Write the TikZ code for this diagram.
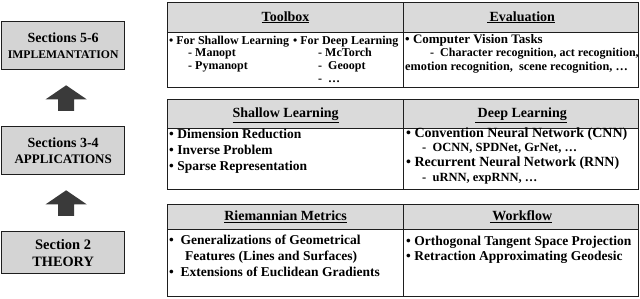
\documentclass[tikz,border=0pt]{standalone}
\usepackage{fontspec}
\setmainfont{Liberation Serif}
\usetikzlibrary{calc}
\definecolor{hdr}{HTML}{DADADA}
\definecolor{boxg}{HTML}{D4D4D4}
\definecolor{arr}{HTML}{3A3A3A}
\definecolor{edge}{HTML}{1E1E1E}
\newcommand\fsz[1]{\fontsize{#1}{#1}\selectfont}
\begin{document}
\begin{tikzpicture}[x=1pt,y=-1pt,
 lbox/.style={draw=edge, fill=boxg, line width=1.3pt, anchor=north west, inner sep=0pt, minimum width=123pt, align=center},
 hcell/.style={draw=edge, fill=hdr, line width=1.2pt, anchor=north west, inner sep=0pt, font=\bfseries\fsz{14}, text height=10pt, text depth=3pt},
 bcell/.style={draw=edge, line width=1.2pt, anchor=north west, inner sep=0pt},
 txt/.style={anchor=base west, inner sep=0pt, font=\bfseries\fsz{#1}},
 bigarr/.style={fill=arr}]
\useasboundingbox (0,0) rectangle (640,299);

% left column
\node[lbox, minimum height=48pt, font=\bfseries\fontsize{14}{16}\selectfont] (b1) at (1,21) {Sections 5-6\\{\fontsize{11.7}{16}\selectfont IMPLEMANTATION}};
\node[lbox, minimum height=48pt, font=\bfseries\fontsize{14}{16}\selectfont] (b2) at (1,126) {Sections 3-4\\{\fontsize{13}{16}\selectfont APPLICATIONS}};
\node[lbox, minimum height=42pt, font=\bfseries\fontsize{14.5}{17}\selectfont] (b3) at (1,231) {Section 2\\{\fontsize{14.3}{17}\selectfont THEORY}};

\coordinate (a1b) at ([xshift=3pt,yshift=15pt]b2.north);
\coordinate (a1t) at ([xshift=3pt,yshift=-15pt]b1.south);
\coordinate (a2b) at ([xshift=3pt,yshift=15pt]b3.north);
\coordinate (a2t) at ([xshift=3pt,yshift=-15pt]b2.south);
\fill[bigarr] ($(a1b)+(-8,0)$) -- ($(a1t)+(-8,14)$) -- ($(a1t)+(-20.5,14)$) -- (a1t) -- ($(a1t)+(20.5,14)$) -- ($(a1t)+(8,14)$) -- ($(a1b)+(8,0)$) -- cycle;
\fill[bigarr] ($(a2b)+(-8,0)$) -- ($(a2t)+(-8,14)$) -- ($(a2t)+(-20.5,14)$) -- (a2t) -- ($(a2t)+(20.5,14)$) -- ($(a2t)+(8,14)$) -- ($(a2b)+(8,0)$) -- cycle;

% table 1
\node[hcell, minimum width=236pt, minimum height=30pt] (h1l) at (167,2) {\underline{Toolbox}};
\node[hcell, minimum width=235pt, minimum height=30pt] (h1r) at (403,2) {\underline{\,Evaluation}};
\node[bcell, minimum width=236pt, minimum height=55pt] (c1l) at (167,32) {};
\node[bcell, minimum width=235pt, minimum height=55pt] (c1r) at (403,32) {};
\node[txt=12] (t1a) at (169,45) {\textbullet\ For Shallow Learning};
\node[txt=12] (t1b) at (188,57) {-\ Manopt};
\node[txt=12] (t1c) at (188,70) {-\ Pymanopt};
\node[txt=12] (t1d) at (293,45) {\textbullet\ For Deep Learning};
\node[txt=12] (t1e) at (318,57) {-\ McTorch};
\node[txt=12] (t1f) at (318,70) {-\ \ Geoopt};
\node[txt=12] (t1g) at (318,82.5) {-\ \ …};
\node[txt=13] (t1h) at (405,44) {\textbullet\ Computer Vision Tasks};
\node[txt=12] (t1i) at (430,57) {-\ \ Character recognition, act recognition,};
\node[txt=12.3] (t1j) at (405,71) {emotion recognition,\ \ scene recognition, …};

% table 2
\node[hcell, minimum width=236pt, minimum height=29pt] (h2l) at (167,99) {\underline{Shallow Learning}};
\node[hcell, minimum width=235pt, minimum height=29pt] (h2r) at (403,99) {\underline{\,Deep Learning}};
\node[bcell, minimum width=236pt, minimum height=61pt] (c2l) at (167,128) {};
\node[bcell, minimum width=235pt, minimum height=61pt] (c2r) at (403,128) {};
\node[txt=13.5] (t2a) at (169,139) {\textbullet\ Dimension Reduction};
\node[txt=13.5] (t2b) at (169,155) {\textbullet\ Inverse Problem};
\node[txt=13.5] (t2c) at (169,171) {\textbullet\ Sparse Representation};
\node[txt=14] (t2d) at (406,138) {\textbullet\ Convention Neural Network (CNN)};
\node[txt=12.5] (t2e) at (422,152) {-\ \ OCNN, SPDNet, GrNet, …};
\node[txt=14] (t2f) at (406,167) {\textbullet\ Recurrent Neural Network (RNN)};
\node[txt=12.5] (t2g) at (422,181.5) {-\ \ uRNN, expRNN, …};

% table 3
\node[hcell, minimum width=236pt, minimum height=25pt] (h3l) at (167,204) {\underline{Riemannian Metrics}};
\node[hcell, minimum width=235pt, minimum height=25pt] (h3r) at (403,204) {\underline{\,Workflow}};
\node[bcell, minimum width=236pt, minimum height=67pt] (c3l) at (167,229) {};
\node[bcell, minimum width=235pt, minimum height=67pt] (c3r) at (403,229) {};
\node[txt=13.5] (t3a) at (169,244.5) {\textbullet\ \ Generalizations of Geometrical};
\node[txt=13.5] (t3b) at (185,260.5) {Features (Lines and Surfaces)};
\node[txt=13.5] (t3c) at (169,276.5) {\textbullet\ \ Extensions of Euclidean Gradients};
\node[txt=13.5] (t3d) at (406,246) {\textbullet\ Orthogonal Tangent Space Projection};
\node[txt=13.5] (t3e) at (406,261) {\textbullet\ Retraction Approximating Geodesic};
\end{tikzpicture}
\end{document}
